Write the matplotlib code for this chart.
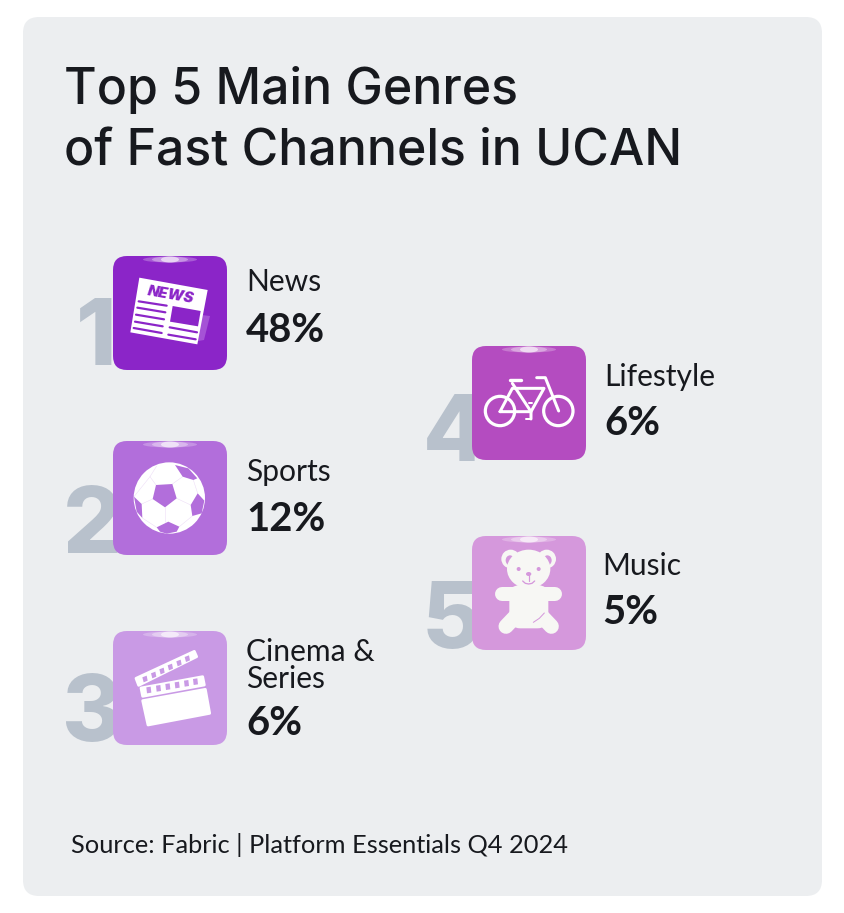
import matplotlib
matplotlib.use('Agg')
import matplotlib.pyplot as plt
from matplotlib.patches import FancyBboxPatch, Polygon, Circle, Ellipse

# chart data
genres = ['News', 'Sports', 'Cinema &\nSeries', 'Lifestyle', 'Music']
shares = [48, 12, 6, 6, 5]
ranks = [1, 2, 3, 4, 5]
tile_colors = ['#8B25C8', '#B26EDB', '#C99AE5', '#B44CC0', '#D598DC']
title = 'Top 5 Main Genres\nof Fast Channels in UCAN'
source = 'Source: Fabric | Platform Essentials Q4 2024'

# layout in pixels
tile_x = [113, 113, 113, 472, 472]
tile_y = [256, 441, 631, 346, 536]
tile_size = 114
label_x = [246, 246, 246, 604, 602]
label_y = [291, 481, 688, 386, 575]
value_y = [342, 531, 735, 435, 624]
digit_x = [76, 63, 62, 423, 422]
digit_y = [365, 553, 741, 461, 648]

fig = plt.figure(figsize=(8.45, 9.13), dpi=100)
ax = fig.add_axes([0, 0, 1, 1])
ax.set_xlim(0, 845)
ax.set_ylim(913, 0)
ax.axis('off')


def px(size):
    return size * 72 / 100


def rounded(x, y, w, h, r, color, z=2):
    ax.add_patch(FancyBboxPatch((x + r, y + r), w - 2 * r, h - 2 * r,
                                boxstyle=f'round,pad={r},rounding_size={r}',
                                fc=color, ec='none', zorder=z))


def poly(pts, color, z=4, ox=0, oy=0, **kw):
    ax.add_patch(Polygon([(ox + a / 3, oy + b / 3) for a, b in pts], closed=True,
                         fc=color, ec=kw.get('ec', 'none'), lw=kw.get('lw', 0), zorder=z,
                         joinstyle='round'))


def line(pts, color, lw, ox=0, oy=0, z=5, alpha=1):
    ax.plot([ox + a / 3 for a, b in pts], [oy + b / 3 for a, b in pts], color=color, lw=px(lw),
            solid_capstyle='round', solid_joinstyle='round', zorder=z, alpha=alpha)


def news_icon(c):
    ox, oy = 60, 240
    poly([(425, 225), (450, 228), (432, 300), (405, 305)], '#A552D6', 3, ox, oy)
    poly([(238, 113), (443, 150), (412, 313), (211, 277)], 'white', 4, ox, oy)
    for a, b in [((236, 184), (320, 197)), ((232, 203), (316, 217)), ((228, 224), (312, 238)),
                 ((225, 245), (308, 259)), ((221, 264), (305, 279)), ((329, 262), (411, 277)),
                 ((325, 284), (407, 298))]:
        line([a, b], c, 2.2, ox, oy)
    poly([(338, 198), (422, 213), (414, 259), (330, 245)], c, 5, ox, oy)
    ax.text(ox + 334 / 3, oy + 165 / 3, 'NEWS', color=c, fontsize=px(15), family='Inter', weight='black',
            style='italic', rotation=-10, ha='center', va='center', zorder=5, rotation_mode='anchor')


def ball_icon(c):
    ox, oy = 60, 430
    ax.add_patch(Circle((ox + 328 / 3, oy + 204 / 3), 107 / 3, fc='white', ec='none', zorder=4))
    poly([(288, 165), (337, 162), (350, 205), (315, 232), (278, 207)], c, 5, ox, oy)
    poly([(345, 105), (385, 115), (412, 145), (400, 150), (368, 140)], c, 5, ox, oy)
    poly([(413, 190), (433, 212), (425, 250), (397, 258), (392, 225)], c, 5, ox, oy)
    poly([(290, 292), (325, 275), (358, 290), (350, 305), (320, 311), (300, 305)], c, 5, ox, oy)
    poly([(222, 200), (245, 222), (247, 264), (230, 245)], c, 5, ox, oy)
    # thin seams between the white panels
    for seam in [[(278, 207), (245, 222)], [(315, 232), (315, 275)], [(350, 205), (392, 225)],
                 [(288, 165), (270, 140), (290, 108)], [(337, 162), (368, 140)],
                 [(397, 258), (358, 290)], [(247, 264), (290, 292)], [(413, 190), (400, 150)],
                 [(222, 200), (270, 140)]]:
        line(seam, c, 0.5, ox, oy, 5, 0.25)


def clapper_icon(c):
    ox, oy = 60, 430
    poly([(228, 745), (403, 664), (410, 680), (236, 766)], 'white', 4, ox, oy, ec='white', lw=2)
    poly([(243, 774), (428, 740), (433, 765), (248, 799)], 'white', 4, ox, oy, ec='white', lw=2)
    poly([(248, 812), (436, 778), (449, 850), (264, 885)], 'white', 4, ox, oy, ec='white', lw=2)
    for a, b in [(254, 747), (280, 735), (305, 723), (330, 711), (356, 699), (381, 686)]:
        poly([(a - 7, b - 5), (a + 6, b - 10), (a + 9, b + 5), (a - 3, b + 10)], c, 5, ox, oy)
    for a, b in [(266, 780), (295, 775), (323, 770), (351, 765), (379, 760), (406, 755)]:
        poly([(a - 7, b - 8), (a + 6, b - 10), (a + 8, b + 8), (a - 5, b + 10)], c, 5, ox, oy)


def bike_icon(c):
    ox, oy = 420, 335
    w = 'white'
    for cx in (240, 415):
        ax.add_patch(Circle((ox + cx / 3, oy + 228 / 3), 44 / 3, fc='none', ec=w, lw=px(3.2), zorder=4))
    line([(240, 230), (277, 160), (372, 160), (333, 230), (240, 230)], w, 3, ox, oy)
    line([(277, 145), (333, 230), (333, 252)], w, 3, ox, oy)
    line([(270, 136), (304, 136)], w, 3.4, ox, oy)
    line([(350, 128), (376, 128), (416, 228)], w, 3, ox, oy)
    line([(318, 252), (333, 252)], w, 2, ox, oy)
    line([(327, 203), (337, 203)], w, 2, ox, oy)


def bear_icon(c):
    ox, oy = 420, 335
    w = '#F7F7F4'
    for ex, ey in [(272, 672), (380, 672)]:
        ax.add_patch(Ellipse((ox + ex / 3, oy + ey / 3), 56 / 3, 56 / 3, fc=w, ec='none', zorder=4))
    ax.add_patch(Ellipse((ox + 270 / 3, oy + 676 / 3), 26 / 3, 30 / 3, fc=c, ec='none', zorder=5))
    ax.add_patch(Ellipse((ox + 382 / 3, oy + 676 / 3), 26 / 3, 30 / 3, fc=c, ec='none', zorder=5))
    ax.add_patch(Ellipse((ox + 326 / 3, oy + 702 / 3), 130 / 3, 116 / 3, fc=w, ec='none', zorder=6))
    rounded(ox + 268 / 3, oy + 750 / 3, 117 / 3, 130 / 3, 11, w, 6)
    line([(246, 776), (406, 776)], w, 14, ox, oy, 6)
    line([(258, 874), (300, 830)], w, 15, ox, oy, 6)
    line([(394, 874), (352, 830)], w, 15, ox, oy, 6)
    for ex in (296, 356):
        ax.add_patch(Circle((ox + ex / 3, oy + 702 / 3), 6 / 3, fc=c, ec='none', zorder=7))
    ax.add_patch(Ellipse((ox + 326 / 3, oy + 717 / 3), 16 / 3, 12 / 3, fc=c, ec='none', zorder=7))
    line([(326, 720), (326, 738)], c, 1.2, ox, oy, 7)
    line([(308, 738), (316, 745), (326, 747), (336, 745), (344, 738)], c, 1.3, ox, oy, 7)
    line([(340, 862), (358, 850), (373, 834)], c, 1.0, ox, oy, 7)


icons = [news_icon, ball_icon, clapper_icon, bike_icon, bear_icon]

# card
rounded(23, 17, 799, 879, 16, '#ECEEF0', 1)

ax.text(64, 104, title.split('\n')[0], fontsize=px(50), family='Inter', weight='medium', color='#17191E',
        va='baseline', zorder=3)
ax.text(64, 166, title.split('\n')[1], fontsize=px(50), family='Inter', weight='medium', color='#17191E',
        va='baseline', zorder=3)

for i in range(len(genres)):
    x, y = tile_x[i], tile_y[i]
    ax.text(digit_x[i], digit_y[i], str(ranks[i]), fontsize=px(92), family='Inter', weight='heavy',
            color='#B8C1CC', ha='left', va='baseline', zorder=1.5)
    rounded(x, y, tile_size, tile_size, 14, tile_colors[i])
    # small highlight on the top edge of the tile
    gx = x + 57
    for gw, ga in [(54, 0.25), (36, 0.35), (18, 0.6)]:
        ax.add_patch(Ellipse((gx, y + 3.5), gw, 6, fc='white', ec='none', alpha=ga, zorder=3))
    icons[i](tile_colors[i])

    lines = genres[i].split('\n')
    for j, part in enumerate(lines):
        ly = label_y[i] - 27 * (len(lines) - 1 - j)
        ax.text(label_x[i], ly, part, fontsize=px(30), family='Lato', color='#17191E', va='baseline', zorder=3)
    ax.text(label_x[i], value_y[i], f'{shares[i]}%', fontsize=px(40), family='Lato', weight='bold',
            color='#17191E', va='baseline', zorder=3)

ax.text(71, 853, source, fontsize=px(25.4), family='Lato', color='#17191E', va='baseline', zorder=3)

fig.savefig('out.png', dpi=100)
